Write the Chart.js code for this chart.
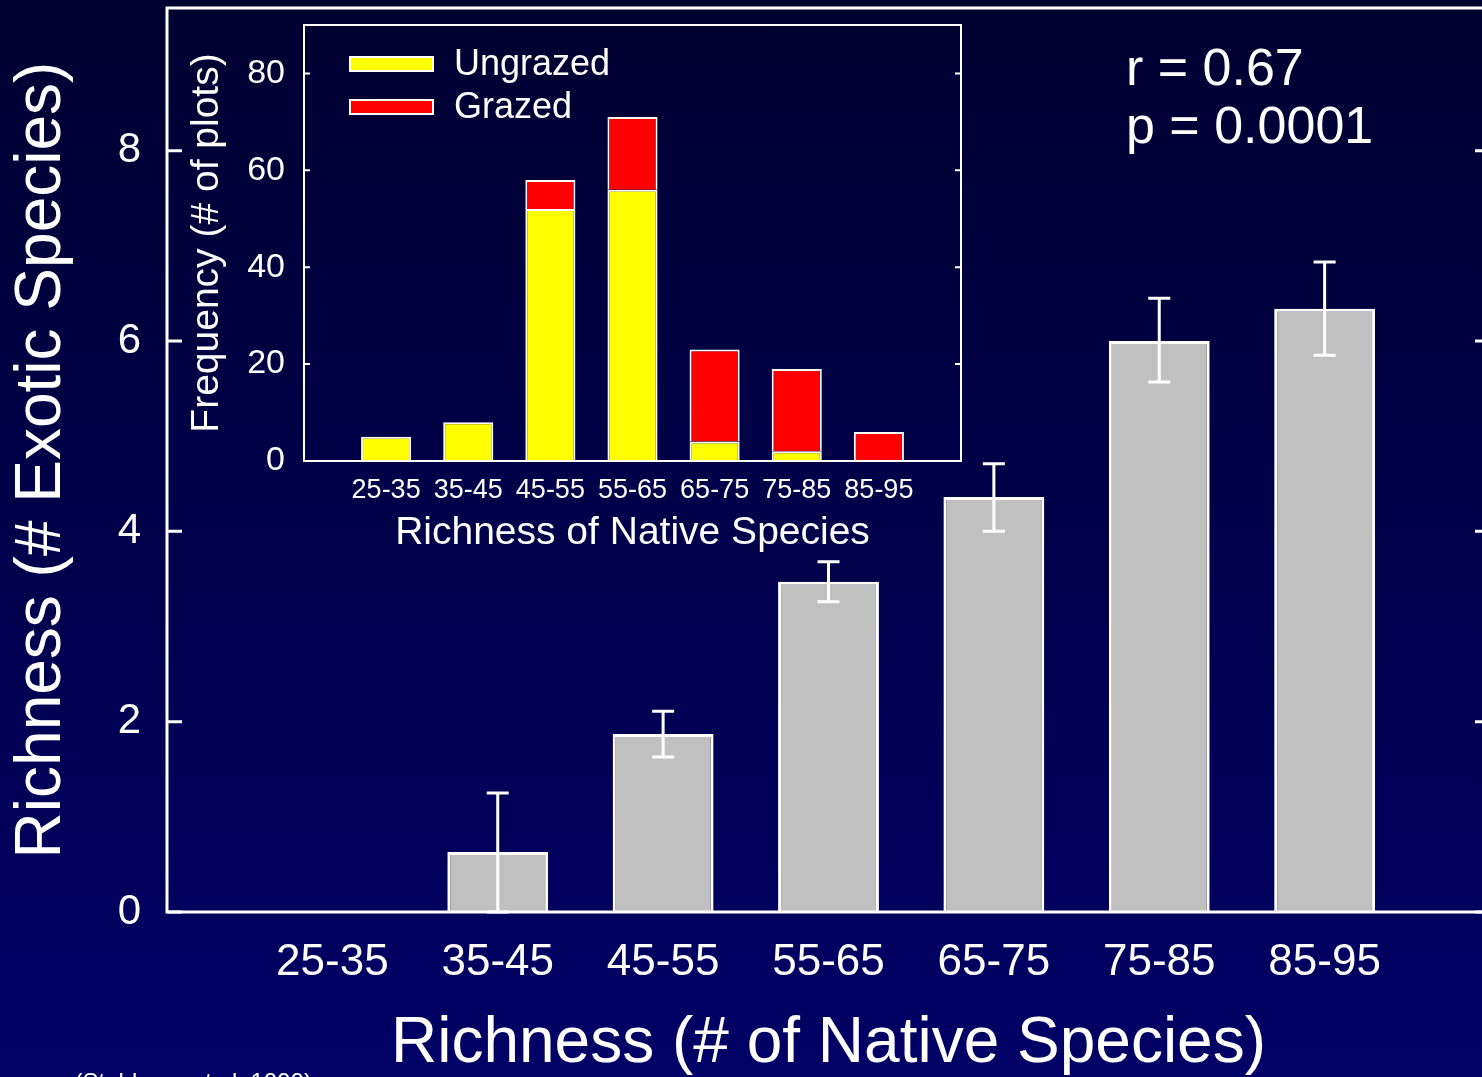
<!DOCTYPE html>
<html><head><meta charset="utf-8">
<script src="https://cdn.jsdelivr.net/npm/chart.js@4/dist/chart.umd.min.js"></script>
<style>
html,body{margin:0;padding:0;width:1482px;height:1077px;overflow:hidden;background:linear-gradient(to bottom,#000030 0%,#000066 100%);}
#main{position:absolute;left:0;top:0;}
#inset{position:absolute;left:180px;top:0;}
</style></head><body>
<canvas id="main" width="1500" height="1077"></canvas>
<canvas id="inset" width="800" height="570"></canvas>
<script>
// ---- data ----
const categories = ['25-35','35-45','45-55','55-65','65-75','75-85','85-95'];
const exoticMean  = [0, 0.63, 1.87, 3.47, 4.36, 6.00, 6.34];
const exoticUpper = [null, 1.25, 2.11, 3.68, 4.71, 6.45, 6.83];
const exoticLower = [null, 0.00, 1.63, 3.26, 4.00, 5.57, 5.85];
const ungrazed = [5, 8, 52, 56, 4, 2, 0];
const grazed   = [0, 0, 6, 15, 19, 17, 6];
const mainYTicks  = [0, 2, 4, 6, 8];
const insetYTicks = [0, 20, 40, 60, 80];
const statsText = ['r = 0.67', 'p = 0.0001'];
const citation = '(Stohlgren et al. 1999)';

const pad = a => [null, ...a, null];
const axisLabels = ['', ...categories, ''];
const FONT = "'Liberation Sans', Arial, Helvetica, sans-serif";
Chart.defaults.font.family = FONT;
Chart.defaults.color = '#ffffff';
const noPad = s => { s.paddingTop = 0; s.paddingBottom = 0; s.paddingLeft = 0; s.paddingRight = 0; };

// ---- main chart plugins ----
const mainDecor = {
  id: 'mainDecor',
  afterDatasetsDraw(chart) {
    const {ctx, chartArea: a, scales: {x, y}} = chart;
    ctx.save();
    ctx.strokeStyle = '#ffffff';
    ctx.lineWidth = 3;
    // error bars
    exoticUpper.forEach((u, i) => {
      if (u === null) return;
      const cx = x.getPixelForValue(i + 1);
      const yu = y.getPixelForValue(u), yl = y.getPixelForValue(exoticLower[i]);
      ctx.beginPath();
      ctx.moveTo(cx, yu); ctx.lineTo(cx, yl);
      ctx.moveTo(cx - 11, yu); ctx.lineTo(cx + 11, yu);
      ctx.moveTo(cx - 11, yl); ctx.lineTo(cx + 11, yl);
      ctx.stroke();
    });
    // frame
    ctx.strokeRect(a.left, a.top, a.right - a.left, a.bottom - a.top);
    // inward ticks
    y.ticks.forEach(t => {
      const py = y.getPixelForValue(t.value);
      ctx.beginPath();
      ctx.moveTo(a.left, py); ctx.lineTo(a.left + 15, py);
      ctx.moveTo(a.right, py); ctx.lineTo(a.right - 15, py);
      ctx.stroke();
    });
    // stats text
    ctx.fillStyle = '#ffffff';
    ctx.font = '52px ' + FONT;
    ctx.textAlign = 'left';
    ctx.textBaseline = 'alphabetic';
    ctx.fillText(statsText[0], 1126, 85);
    ctx.fillText(statsText[1], 1126, 143);
    ctx.font = '24px ' + FONT;
    ctx.textAlign = 'right';
    ctx.fillText(citation, 312, 1090);
    ctx.restore();
  }
};

new Chart(document.getElementById('main'), {
  type: 'bar',
  data: {
    labels: axisLabels,
    datasets: [{
      label: 'Exotic species richness',
      data: pad(exoticMean),
      backgroundColor: '#c0c0c0',
      borderColor: '#ffffff',
      borderWidth: 3,
      categoryPercentage: 1,
      barPercentage: 0.61
    }]
  },
  options: {
    responsive: false,
    devicePixelRatio: 1,
    animation: false,
    layout: {padding: {left: 0, top: 8, right: 10, bottom: 0}},
    plugins: {legend: {display: false}, tooltip: {enabled: false}},
    scales: {
      x: {
        type: 'category',
        offset: false,
        grid: {display: false, drawTicks: false},
        border: {display: false},
        ticks: {color: '#ffffff', font: {size: 44}, padding: 24, maxRotation: 0, autoSkip: false},
        title: {display: true, text: 'Richness (# of Native Species)', color: '#ffffff',
                font: {size: 64, lineHeight: 1}, padding: {top: 0, bottom: 1}},
        afterFit: s => { s.height = 165; noPad(s); }
      },
      y: {
        min: 0, max: 9.5,
        grid: {display: false, drawTicks: false},
        border: {display: false},
        afterBuildTicks: s => { s.ticks = mainYTicks.map(v => ({value: v})); },
        ticks: {color: '#ffffff', font: {size: 42}, padding: 26},
        title: {display: true, text: 'Richness (# Exotic Species)', color: '#ffffff',
                font: {size: 64, lineHeight: 1}, padding: {top: 10, bottom: 0}},
        afterFit: s => { s.width = 167; noPad(s); }
      }
    }
  },
  plugins: [mainDecor]
});

// ---- inset chart ----
const insetDecor = {
  id: 'insetDecor',
  afterDatasetsDraw(chart) {
    const {ctx, chartArea: a, scales: {y}} = chart;
    ctx.save();
    ctx.strokeStyle = '#ffffff';
    ctx.lineWidth = 2;
    ctx.strokeRect(a.left, a.top, a.right - a.left, a.bottom - a.top);
    y.ticks.forEach(t => {
      const py = y.getPixelForValue(t.value);
      ctx.beginPath();
      ctx.moveTo(a.left, py); ctx.lineTo(a.left + 6, py);
      ctx.moveTo(a.right, py); ctx.lineTo(a.right - 6, py);
      ctx.stroke();
    });
    // legend
    ctx.font = '36px ' + FONT;
    ctx.textAlign = 'left';
    ctx.textBaseline = 'middle';
    chart.data.datasets.forEach((ds, i) => {
      const cy = 64 + i * 43;
      ctx.fillStyle = ds.backgroundColor;
      ctx.fillRect(170, cy - 7, 83, 14);
      ctx.strokeStyle = '#ffffff';
      ctx.lineWidth = 2;
      ctx.strokeRect(170, cy - 7, 83, 14);
      ctx.fillStyle = '#ffffff';
      ctx.fillText(ds.label, 274, cy + 1);
    });
    ctx.restore();
  }
};

new Chart(document.getElementById('inset'), {
  type: 'bar',
  data: {
    labels: axisLabels,
    datasets: [
      {label: 'Ungrazed', data: pad(ungrazed), backgroundColor: '#ffff00', borderColor: '#ffffff',
       borderWidth: 2, categoryPercentage: 1, barPercentage: 0.61},
      {label: 'Grazed', data: pad(grazed), backgroundColor: '#ff0000', borderColor: '#ffffff',
       borderWidth: 2, categoryPercentage: 1, barPercentage: 0.61}
    ]
  },
  options: {
    responsive: false,
    devicePixelRatio: 1,
    animation: false,
    layout: {padding: {left: 0, top: 25, right: 19, bottom: 0}},
    plugins: {legend: {display: false}, tooltip: {enabled: false}},
    scales: {
      x: {
        type: 'category', stacked: true, offset: false,
        grid: {display: false, drawTicks: false},
        border: {display: false},
        ticks: {color: '#ffffff', font: {size: 27}, padding: 13, maxRotation: 0, autoSkip: false},
        title: {display: true, text: 'Richness of Native Species', color: '#ffffff',
                font: {size: 39, lineHeight: 1.2}, padding: {top: 0, bottom: 13}},
        afterFit: s => { s.height = 109; noPad(s); }
      },
      y: {
        stacked: true, min: 0, max: 90,
        grid: {display: false, drawTicks: false},
        border: {display: false},
        afterBuildTicks: s => { s.ticks = insetYTicks.map(v => ({value: v})); },
        ticks: {color: '#ffffff', font: {size: 34}, padding: 19},
        title: {display: true, text: 'Frequency (# of plots)', color: '#ffffff',
                font: {size: 39, lineHeight: 1}, padding: {top: 8, bottom: 0}},
        afterFit: s => { s.width = 124; noPad(s); }
      }
    }
  },
  plugins: [insetDecor]
});
</script>
</body></html>
